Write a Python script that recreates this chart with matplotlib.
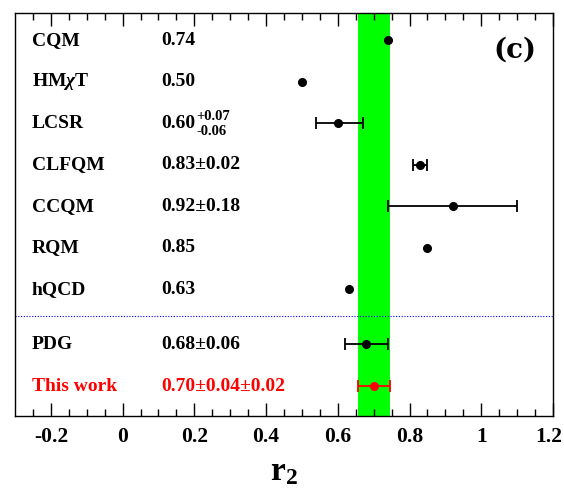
import numpy as np
import matplotlib.pyplot as plt
import matplotlib.transforms as mtransforms

plt.rcParams['font.family'] = ['Liberation Serif', 'DejaVu Serif']
plt.rcParams['font.weight'] = 'bold'
plt.rcParams['mathtext.fontset'] = 'custom'
plt.rcParams['mathtext.rm'] = 'Liberation Serif:bold'
plt.rcParams['mathtext.it'] = 'Liberation Serif:italic:bold'
plt.rcParams['mathtext.bf'] = 'Liberation Serif:bold'

# datos: modelos y valores de r2
modelos = ["CQM", r"HM$\chi$T", "LCSR", "CLFQM", "CCQM", "RQM", "hQCD", "PDG", "This work"]
textos = ["0.74", "0.50", "0.60", "0.83\u00b10.02", "0.92\u00b10.18", "0.85", "0.63",
          "0.68\u00b10.06", "0.70\u00b10.04\u00b10.02"]
r2 = [0.74, 0.50, 0.60, 0.83, 0.92, 0.85, 0.63, 0.68, 0.70]
err_bajo = [0, 0, 0.06, 0.02, 0.18, 0, 0, 0.06, np.hypot(0.04, 0.02)]
err_alto = [0, 0, 0.07, 0.02, 0.18, 0, 0, 0.06, np.hypot(0.04, 0.02)]
lcsr_sup, lcsr_inf = "+0.07", "-0.06"
ticks = [-0.2, 0, 0.2, 0.4, 0.6, 0.8, 1, 1.2]
ticks_txt = ["-0.2", "0", "0.2", "0.4", "0.6", "0.8", "1", "1.2"]

filas = [9.04, 8.04, 7.04, 6.04, 5.04, 4.04, 3.05, 1.73, 0.72]   # posicion vertical
colores = ["black"] * 8 + ["red"]

fig = plt.figure(figsize=(5.64, 4.88), dpi=100)
ax = fig.add_axes([15 / 564, 72 / 488, 538 / 564, 403 / 488])
ax.set_xlim(-0.3, 1.2)
ax.set_ylim(0, 9.69)

# banda verde de este trabajo
ax.axvspan(r2[-1] - err_bajo[-1], r2[-1] + err_alto[-1], color="#00ff00", lw=0, zorder=1)
ax.axhline(2.40, color="blue", ls=(0, (1, 1.5)), lw=0.8, zorder=2)

for i in range(len(modelos)):
    c = colores[i]
    if err_bajo[i] > 0:
        ax.errorbar(r2[i], filas[i], xerr=[[err_bajo[i]], [err_alto[i]]], fmt="o",
                    color=c, ms=5.5, capsize=4.5, elinewidth=1.3, capthick=1.3, zorder=3)
    else:
        ax.plot(r2[i], filas[i], "o", color=c, ms=5.5, zorder=3)
    ax.text(-0.2526, filas[i], modelos[i], color=c, fontsize=14, va="center", ha="left")
    ax.text(0.107, filas[i], textos[i], color=c, fontsize=14, va="center", ha="left")

# exponentes asimetricos de LCSR
ax.text(0.2066, filas[2] + 0.17, lcsr_sup, fontsize=10.5, va="center", ha="left")
ax.text(0.2066, filas[2] - 0.21, lcsr_inf, fontsize=10.5, va="center", ha="left")

ax.text(0.929, 0.908, "(c)", transform=ax.transAxes, fontsize=20, ha="center", va="center",
        family="DejaVu Serif", weight="bold")

ax.set_xticks(ticks)
ax.set_xticklabels(ticks_txt, fontsize=15.5)
ax.set_xticks(np.arange(-0.25, 1.2, 0.05), minor=True)
ax.set_yticks([])
ax.tick_params(which="both", direction="in", top=True, bottom=True, left=False, right=False)
ax.tick_params(which="major", length=9.5, width=1, pad=8)
ax.tick_params(which="minor", length=4.8, width=1)
ax.set_xlabel(r"$\mathbf{r_2}$", fontsize=24, labelpad=7)
for s in ax.spines.values():
    s.set_linewidth(1)

# la ultima etiqueta se corre un poco para que quepa en la figura
ult = ax.get_xticklabels()[-1]
ult.set_transform(ult.get_transform() + mtransforms.ScaledTranslation(-3 / 72, 0, fig.dpi_scale_trans))

plt.savefig("out.png", dpi=100)
